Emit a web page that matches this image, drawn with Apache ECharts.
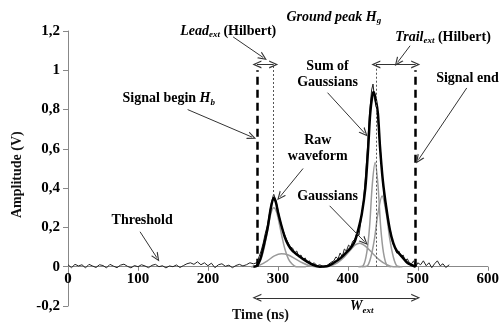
<!DOCTYPE html>
<html>
<head>
<meta charset="utf-8">
<script src="https://cdn.jsdelivr.net/npm/echarts@6/dist/echarts.min.js"></script>
<style>
html, body {margin: 0; padding: 0; background: #fff;}
#main {width: 502px; height: 324px;}
</style>
</head>
<body>
<div id="main"></div>
<script>
// raw lidar waveform [time ns, amplitude V]
const rawWave = [
	[0,0.01],[5,-0.005],[10,0.012],[15,0.004],[20,0.01],[25,-0.006],[30,0.012],[35,0.004],[40,-0.004],[45,0.01],
	[50,0.006],[55,-0.006],[60,0.012],[65,0.003],[70,-0.005],[75,0.008],[80,0.013],[85,0.002],[90,-0.006],[95,0.006],
	[100,0],[105,0.01],[110,0.004],[115,-0.005],[120,0.007],[125,0.012],[130,0],[135,0.005],[140,-0.006],[145,0.004],
	[150,0],[155,0.009],[160,-0.004],[165,0.006],[170,0.015],[175,0.02],[180,0.012],[185,0.025],[190,0.01],[195,0.02],
	[200,0.005],[205,0.018],[210,-0.005],[215,0.01],[220,0.015],[225,0.002],[230,0.008],[235,-0.005],[240,0.006],[245,0.012],
	[250,0.004],[255,0.01],[260,0.02],[265,0.015],
	[270,0.02],[273,0.05],[276,0.08],[279,0.12],[282,0.17],[285,0.21],[288,0.27],[291,0.33],[294,0.37],[297,0.34],
	[300,0.29],[303,0.24],[306,0.2],[309,0.17],[312,0.14],[315,0.12],[318,0.1],[321,0.095],[324,0.07],[327,0.08],
	[330,0.05],[333,0.06],[336,0.035],[339,0.045],[342,0.02],[345,0.03],[348,0.012],[352,0.02],[356,0.005],[360,0.01],
	[365,0],[370,0.005],[375,0.02],[380,0.03],[383,0.05],[386,0.04],[389,0.07],[392,0.05],[395,0.09],[398,0.08],
	[401,0.11],[404,0.1],[407,0.13],[410,0.14],[413,0.17],[416,0.16],[419,0.24],[422,0.32],[425,0.45],[428,0.6],
	[431,0.78],[434,0.9],[436,0.93],[438,0.86],[440,0.82],[442,0.8],[444,0.7],[446,0.62],[449,0.48],[452,0.36],
	[455,0.3],[458,0.22],[461,0.18],[464,0.12],[467,0.1],[470,0.07],[473,0.08],[476,0.05],[479,0.06],[482,0.03],
	[485,0.04],[488,0.02],[491,0.015],[494,0.03],[497,0],[500,0.02],[504,0.01],[508,0.03],[512,0.005],[516,0.02],
	[520,-0.005],[524,0.015],[528,0.03],[532,0.005],[536,0.015],[540,-0.004],[545,0.01]
];

// fitted sum of gaussians
const sumGauss = [
	[265,0],[270,0.005],[275,0.04],[280,0.11],[285,0.19],[290,0.30],[294,0.35],[297,0.33],[300,0.28],[305,0.21],
	[310,0.15],[315,0.11],[320,0.085],[330,0.055],[340,0.03],[350,0.01],[360,0],[370,0.002],[380,0.02],[390,0.045],
	[400,0.08],[405,0.10],[410,0.13],[415,0.19],[420,0.27],[425,0.40],[429,0.60],[432,0.78],[435,0.87],[437,0.89],
	[440,0.85],[443,0.78],[446,0.61],[450,0.44],[455,0.30],[460,0.19],[465,0.12],[470,0.08],[475,0.06],[480,0.04],
	[485,0.02],[490,0.01],[497,0]
];

// individual gaussians
const g1 = [[262,0],[270,0.005],[275,0.03],[280,0.09],[285,0.18],[290,0.27],[294,0.30],[298,0.28],[302,0.22],[306,0.15],[310,0.09],[315,0.04],[320,0.015],[326,0],[340,0]];
const g2 = [[262,0],[275,0.01],[285,0.03],[295,0.055],[305,0.066],[315,0.06],[325,0.04],[335,0.02],[345,0.005],[355,0]];
const g3 = [[365,0],[375,0.005],[385,0.02],[395,0.05],[405,0.09],[410,0.11],[417,0.12],[425,0.105],[435,0.07],[445,0.035],[455,0.012],[465,0],[475,0]];
const g4 = [[415,0],[422,0.005],[427,0.07],[431,0.2],[435,0.42],[439,0.53],[443,0.42],[447,0.2],[451,0.07],[456,0.005],[462,0]];
const g5 = [[420,0],[428,0.005],[433,0.05],[438,0.14],[443,0.27],[449,0.36],[455,0.27],[460,0.14],[465,0.05],[470,0.005],[478,0]];

const threshold = 0.03;
const signalBegin = 270, signalEnd = 497;
const leadPeak = 294, groundPeak = 440;

const serif = 'Liberation Serif';
const chev = 'path://M0,10 L5,0 L10,10 L8.4,10 L5,3 L1.6,10 Z';

function arrow(a, b) {
	return [{coord: a, symbol: 'none'}, {coord: b, symbol: chev}];
}
function dbl(a, b) {
	return [{coord: a, symbol: chev}, {coord: b, symbol: chev}];
}

const rich = {
	b: {fontFamily: serif, fontWeight: 'bold', fontSize: 14, lineHeight: 16, color: '#111'},
	i: {fontFamily: serif, fontWeight: 'bold', fontStyle: 'italic', fontSize: 14, lineHeight: 16, color: '#111'},
	s: {fontFamily: serif, fontWeight: 'bold', fontStyle: 'italic', fontSize: 9, lineHeight: 16, verticalAlign: 'bottom', color: '#111'}
};

// annotation texts, [time, amplitude] of the text centre
const notes = [
	[[229, 1.20], '{i|Lead}{s|ext}{b| (Hilbert)}'],
	[[144, 0.855], '{b|Signal begin }{i|H}{s|b}'],
	[[380, 1.27], '{i|Ground peak H}{s|g}'],
	[[536, 1.17], '{i|Trail}{s|ext}{b| (Hilbert)}'],
	[[371, 0.98], '{b|Sum of}\n{b|Gaussians}'],
	[[571, 0.96], '{b|Signal end}'],
	[[357, 0.60], '{b|Raw}\n{b|waveform}'],
	[[371, 0.356], '{b|Gaussians}'],
	[[106, 0.234], '{b|Threshold}'],
	[[420, -0.204], '{i|W}{s|ext}']
];

// grid is 275px tall for 1.4 V, x axis sits on 0 V
const gridTop = 31, gridBottom = 18;
const zeroOffset = (324 - gridTop - gridBottom) * 0.2 / 1.4;

let myChart = echarts.init(document.getElementById('main'));
let option = {
	animation: false,
	grid: {left: 68, right: 14, top: gridTop, bottom: gridBottom},
	xAxis: {
		type: 'value', min: 0, max: 600, interval: 100,
		offset: -zeroOffset,
		axisLine: {onZero: false, lineStyle: {color: '#888', width: 1}},
		axisTick: {show: true, length: 4, lineStyle: {color: '#888'}},
		axisLabel: {fontFamily: serif, fontWeight: 'bold', fontSize: 15, color: '#000', margin: 5},
		splitLine: {show: false}
	},
	yAxis: {
		type: 'value', min: -0.2, max: 1.2, interval: 0.2,
		axisLine: {show: true, lineStyle: {color: '#888', width: 1}},
		axisTick: {show: true, length: 5, lineStyle: {color: '#888'}},
		axisLabel: {
			fontFamily: serif, fontWeight: 'bold', fontSize: 15, color: '#000', margin: 8,
			formatter: v => String(Math.round(v * 10) / 10).replace('.', ',')
		},
		splitLine: {show: false}
	},
	series: [
		{type: 'line', data: g1, showSymbol: false, smooth: 0.3, lineStyle: {color: '#9a9a9a', width: 1.5}},
		{type: 'line', data: g2, showSymbol: false, smooth: 0.3, lineStyle: {color: '#9a9a9a', width: 1.5}},
		{type: 'line', data: g3, showSymbol: false, smooth: 0.3, lineStyle: {color: '#9a9a9a', width: 1.5}},
		{type: 'line', data: g4, showSymbol: false, smooth: 0.3, lineStyle: {color: '#9a9a9a', width: 1.5}},
		{type: 'line', data: g5, showSymbol: false, smooth: 0.3, lineStyle: {color: '#9a9a9a', width: 1.5}},
		{type: 'line', data: rawWave, showSymbol: false, lineStyle: {color: '#222', width: 1}},
		{type: 'line', data: sumGauss, showSymbol: false, smooth: 0.3, lineStyle: {color: '#000', width: 2.5}},
		{
			// annotations
			type: 'line', data: [], clip: false, silent: true,
			markLine: {
				silent: true, symbolSize: [8, 9], label: {show: false},
				lineStyle: {color: '#333', width: 1, type: 'solid'},
				data: [
					[{coord: [0, threshold], symbol: 'none', lineStyle: {color: '#000', width: 1.3, type: [5, 4]}}, {coord: [617, threshold], symbol: 'none'}],
					[{coord: [signalBegin, 0], symbol: 'none', lineStyle: {color: '#000', width: 2.5, type: [8, 5]}}, {coord: [signalBegin, 1.0], symbol: 'none'}],
					[{coord: [signalEnd, 0], symbol: 'none', lineStyle: {color: '#000', width: 2.5, type: [8, 5]}}, {coord: [signalEnd, 1.0], symbol: 'none'}],
					[{coord: [leadPeak, 0.36], symbol: 'none', lineStyle: {color: '#555', width: 1, type: [2, 2]}}, {coord: [leadPeak, 1.03], symbol: 'none'}],
					[{coord: [groundPeak, 0], symbol: 'none', lineStyle: {color: '#555', width: 1, type: [2, 2]}}, {coord: [groundPeak, 1.03], symbol: 'none'}],
					dbl([signalBegin, 1.03], [leadPeak, 1.03]),
					dbl([groundPeak, 1.03], [signalEnd, 1.03]),
					dbl([signalBegin, -0.158], [signalEnd, -0.158]),
					arrow([236, 1.17], [279, 1.065]),
					arrow([171, 0.80], [263, 0.66]),
					arrow([380, 1.21], [439, 1.04]),
					arrow([489, 1.125], [471, 1.04]),
					arrow([371, 0.886], [424, 0.68]),
					arrow([570, 0.91], [501, 0.545]),
					arrow([336, 0.50], [303, 0.356]),
					arrow([374, 0.31], [424, 0.127]),
					arrow([103, 0.178], [127, 0.046])
				]
			}
		}
	]
};
myChart.setOption(option);

// texts placed from data coords (some lie outside the axis range)
let graphics = notes.map((n, i) => {
	let p = myChart.convertToPixel({gridIndex: 0}, n[0]);
	return {type: 'text', id: 'note' + i, x: p[0], y: p[1], silent: true,
		style: {text: n[1], rich: rich, align: 'center', verticalAlign: 'middle'}};
});
graphics.push(
	{type: 'text', id: 'xname', left: 232, top: 308, style: {text: 'Time (ns)', font: 'bold 14px "Liberation Serif"', fill: '#111'}},
	{type: 'text', id: 'yname', x: 10, y: 218, rotation: Math.PI / 2, style: {text: 'Amplitude (V)', font: 'bold 14px "Liberation Serif"', fill: '#111'}}
);
myChart.setOption({graphic: graphics});
</script>
</body>
</html>
